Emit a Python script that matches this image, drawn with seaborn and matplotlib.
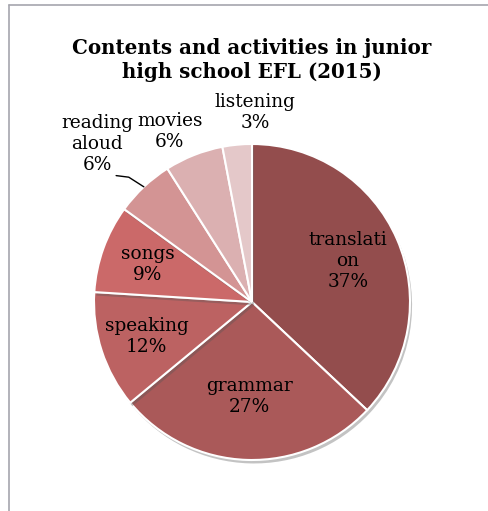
import numpy as np
import matplotlib
matplotlib.use("Agg")
import matplotlib.pyplot as plt
import matplotlib.patheffects as pe
from matplotlib.lines import Line2D
import seaborn as sns

# Share of class time by content / activity
categories = ["translati\non", "grammar", "speaking", "songs", "reading\naloud", "movies", "listening"]
shares = [37, 27, 12, 9, 6, 6, 3]
slice_colors = ["#934D4D", "#AA5959", "#BC6262", "#CB6969", "#D39494", "#DBB0B1", "#E4C8C9"]

sns.set_theme(style="white")
plt.rcParams["font.family"] = ["DejaVu Serif"]
plt.rcParams["text.color"] = "black"

fig = plt.figure(figsize=(4.89, 5.11), dpi=100)
W, H = 489, 511
cx, cy, R = 252, 302, 158  # pie centre and radius in pixels
xr, yr = 1.5, 1.3
ax = fig.add_axes([(cx - xr * R) / W, (H - cy - yr * R) / H, 2 * xr * R / W, 2 * yr * R / H])

wedges, _ = ax.pie(
    shares, colors=slice_colors, startangle=90, counterclock=False,
    wedgeprops=dict(edgecolor="white", linewidth=1.5),
)
for w in wedges:
    w.set_path_effects([pe.SimplePatchShadow(offset=(1.5, -2.5), shadow_rgbFace="#555555", alpha=0.35),
                        pe.Normal()])
ax.set_aspect("auto")
ax.set_xlim(-xr, xr)
ax.set_ylim(-yr, yr)
ax.axis("off")

# label placement: radius fraction for inside labels, explicit spot for outside ones
inside_r = {0: 0.66, 1: 0.6, 2: 0.7, 3: 0.7}
outside_xy = {4: (-0.98, 1.0), 5: (-0.52, 1.08), 6: (0.02, 1.20)}
fs = 13.3
for i, (w, cat, v) in enumerate(zip(wedges, categories, shares)):
    mid = np.deg2rad((w.theta1 + w.theta2) / 2)
    txt = f"{cat}\n{v}%"
    if i in inside_r:
        r = inside_r[i]
        ax.text(r * np.cos(mid), r * np.sin(mid), txt, ha="center", va="center",
                fontsize=fs, color="black", linespacing=1.22)
    else:
        x, y = outside_xy[i]
        ax.text(x, y, txt, ha="center", va="center", fontsize=fs, color="black",
                linespacing=1.22, clip_on=False)

# leader line for the "reading aloud" label
ra = wedges[4]
mid = np.deg2rad((ra.theta1 + ra.theta2) / 2)
ex, ey = np.cos(mid), np.sin(mid)
ax.add_line(Line2D([-0.86, -0.78, ex], [0.80, 0.79, ey], color="black", linewidth=1.0, clip_on=False))

fig.text(252 / W, 1 - 60 / H, "Contents and activities in junior\nhigh school EFL (2015)",
         ha="center", va="center", fontsize=14.3, fontweight="bold", color="black",
         linespacing=1.3)

# chart area border
fig.add_artist(Line2D([8.5 / W, 8.5 / W], [0, 1 - 5.5 / H], color="#A6A6AE", linewidth=1.2))
fig.add_artist(Line2D([8.5 / W, 1], [1 - 5.5 / H, 1 - 5.5 / H], color="#A6A6AE", linewidth=1.2))

fig.savefig("out.png", dpi=100)
